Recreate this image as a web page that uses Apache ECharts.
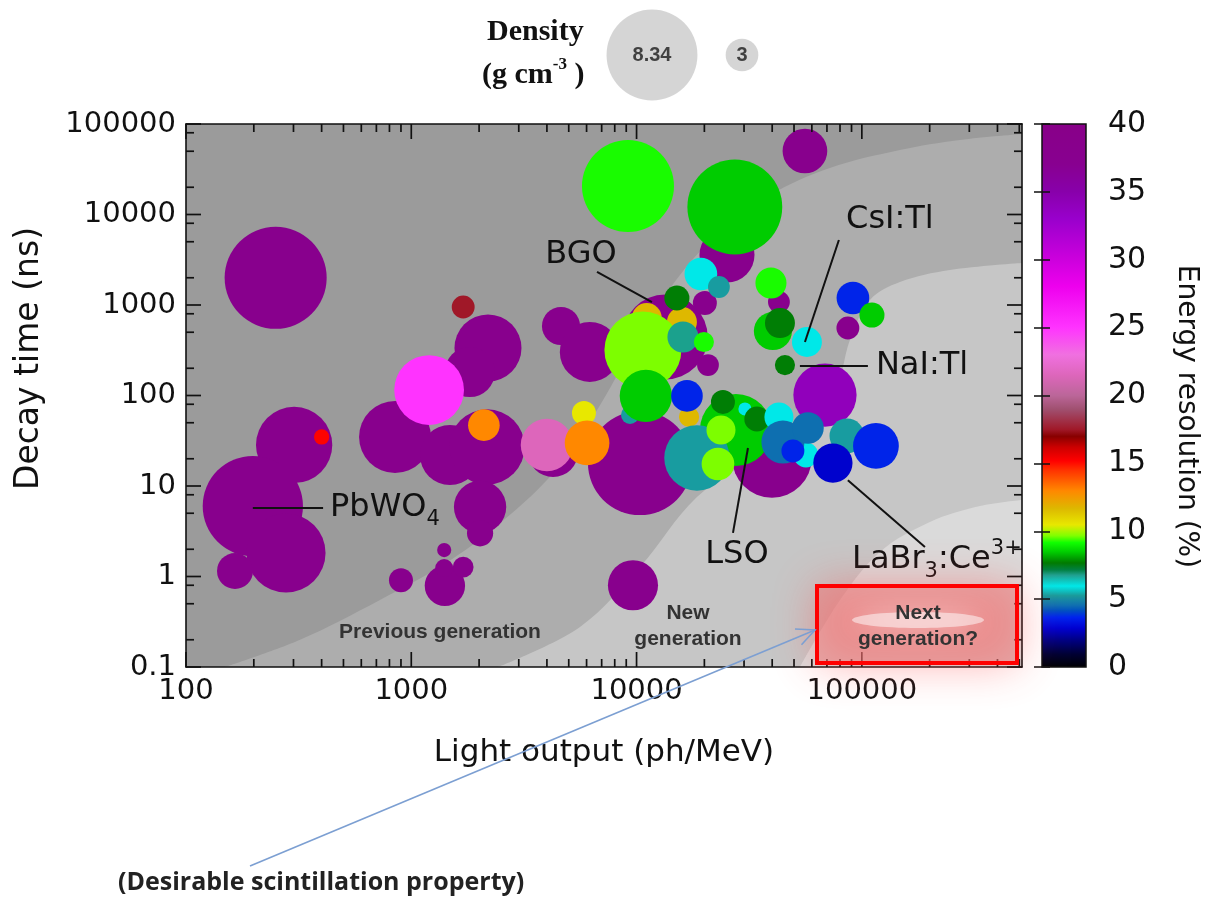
<!DOCTYPE html>
<html><head><meta charset="utf-8">
<script src="https://cdn.jsdelivr.net/npm/echarts@6/dist/echarts.min.js"></script>
<style>html,body{margin:0;padding:0;background:#fff}#chart{width:1215px;height:909px}</style>
</head><body><div id="chart"></div>
<script>
// ---------------- DATA ----------------
// light output (ph/MeV)
const LIGHT_OUTPUT = [
  250,1700,2190,1820,4620,6200,302,198,278,165,847,1485,2170,2020,2020,4260,10350,13400,25200,20100,
  20750,39900,55900,42850,86700,68600,9640,900,1410,1400,1700,1400,
  400,1200,2100,4000,5840,6030,9160,27300,19300,23200,11100,15900,10670,15100,16070,19900,9350,11000,
  17100,16740,27600,18540,23700,22980,24180,30270,34200,42850,56450,44650,57650,49430,85900,115500,74400,
  39500,40300,43300,57050,45570,91300,110900
];
// decay time (ns)
const DECAY_TIME = [
  2000,950,335,182,586,303,28.4,6.0,1.82,1.15,34.8,22,27,5.86,3.0,23.8,17.9,443,3570,1050,
  217,20.4,50300,1080,557,101,0.8,0.91,0.79,1.96,1.27,1.24,
  34.8,115,47,28.4,64,29.9,20650,12100,2200,1580,718,649,318,1195,443,390,61,99,
  58,99,41.6,20.4,41.6,17.5,85,71,55,58,22,30.6,43.7,24.4,35.7,27.7,17.9,
  1750,516,632,390,217,1195,775
];
// energy resolution (%)
const ENERGY_RESOLUTION = [
  38,17.5,38,38,38,38,38,38,38,38,38,38,38,38,38,38,38,38,38,38,
  38,38,38,38,38,34,38,38,38,38,38,38,
  15.2,25,13,21.5,10.5,13,9.2,8.5,6.0,5.3,11.7,11.7,9.7,7.7,6.8,9.2,5.3,8.5,
  11.7,3.7,8.5,5.3,9.7,9.7,7.7,6.0,7.7,6.0,6.0,4.6,4.6,3.7,5.3,3.7,2.9,
  9.2,8.5,7.7,6.0,7.7,3.7,8.5
];
// density (g cm^-3)
const DENSITY = [
  9.36,2.1,6.15,4.6,3.5,5.5,7.0,9.2,7.25,3.3,6.6,5.5,6.9,4.8,2.4,4.6,9.54,7.8,5.05,2.2,
  2.0,7.3,4.1,2.0,2.1,5.8,4.6,2.2,3.7,1.3,1.9,1.65,
  1.4,6.4,2.9,4.8,2.2,4.1,8.44,8.7,3.0,2.0,2.75,2.75,7.06,2.3,2.85,1.85,1.65,4.8,
  1.85,2.9,6.6,6.0,2.66,3.0,2.2,1.2,2.3,2.66,2.3,3.95,2.9,2.1,3.2,4.2,3.6,
  2.85,3.5,2.75,2.75,1.85,3.0,2.3
];
// density legend
const LEGEND_DENSITY = [8.34, 3];

// background generation boundaries [light output, decay time]
const BOUNDARY_PREVIOUS = [[149,0.1],[321,0.2],[726,0.55],[1486,1.5],[2742,4.8],[4571,17],[6880,78],[10350,470],[15590,2150],[23440,6400],[39080,16400],[72150,32700],[147600,51600],[272500,66600],[514000,77500]];
const BOUNDARY_NEW = [[2426,0.1],[5610,0.277],[10350,1.27],[18540,7.55],[35300,22],[58900,43.7],[76000,101],[88500,410],[108700,1135],[147600,1795],[246000,2436],[514000,2911]];
const BOUNDARY_NEXT = [[53100,0.1],[80000,0.55],[120300,1.87],[200500,4.0],[334400,6.0],[514000,7.0]];

// axis ticks
const X_MINOR_TICKS = [200,300,400,500,600,700,800,900,2000,3000,4000,5000,6000,7000,8000,9000,20000,30000,40000,50000,60000,70000,80000,90000,200000,300000,400000,500000];
const Y_MINOR_TICKS = [0.2,0.5,0.8,2,5,8,20,50,80,200,500,800,2000,5000,8000,20000,50000,80000];
const X_MAJOR_TICKS = [100,1000,10000,100000];
const Y_MAJOR_TICKS = [0.1,1,10,100,1000,10000,100000];

// annotations
const ANNOT_LABELS = ['PbWO{sub|4}','BGO','CsI:Tl','NaI:Tl','LSO','LaBr{sub|3}:Ce{sup|3+}'];
const ANNOT_FROM = [[198,5.71],[11700,1079],[55900,390],[53100,212],[31230,26.3],[86700,11.6]];
const ANNOT_TO = [[406,5.71],[6675,2317],[79100,5225],[106400,212],[26790,3.03],[190600,2.12]];
const ANNOT_TEXT = [[436,5.71],[5665,3568],[133200,8700],[115500,212],[27900,1.73],[90500,1.52]];
const ANNOT_ALIGN = ['left','center','center','left','center','left'];

// colour scale for energy resolution
const COLOR_STOPS = [
  [0,'#000000'],[1,'#000033'],[2,'#000080'],[2.9,'#0000d0'],[3.7,'#0022ee'],[4.2,'#0050c0'],[4.6,'#1070b0'],
  [5.3,'#1a9a9a'],[6.0,'#00e8e8'],[6.8,'#20a090'],[7.2,'#008040'],[7.7,'#007a00'],[8.5,'#00cc00'],
  [9.2,'#11ff00'],[9.7,'#80ff00'],[10.5,'#e8e800'],[11.7,'#ddb800'],[13,'#ff8800'],[14.5,'#ff3300'],
  [15.2,'#ff0000'],[16.2,'#cc0000'],[17,'#880000'],[17.5,'#a01828'],[19,'#a05070'],[20,'#bb6699'],
  [21.5,'#dd66bb'],[23,'#f070e0'],[25,'#ff33ff'],[28,'#ee00ee'],[30,'#cc00dd'],[33,'#9900cc'],
  [35,'#8800aa'],[37,'#880090'],[40,'#880088']
];

// ---------------- helpers ----------------
function hex2rgb(h){return [parseInt(h.slice(1,3),16),parseInt(h.slice(3,5),16),parseInt(h.slice(5,7),16)];}
function colorAt(v){
  for(let i=1;i<COLOR_STOPS.length;i++){
    const [v0,c0]=COLOR_STOPS[i-1],[v1,c1]=COLOR_STOPS[i];
    if(v<=v1){
      const t=(v-v0)/(v1-v0),a=hex2rgb(c0),b=hex2rgb(c1);
      return 'rgb('+a.map((x,k)=>Math.round(x+(b[k]-x)*t)).join(',')+')';
    }
  }
  return COLOR_STOPS[COLOR_STOPS.length-1][1];
}
const PALETTE=[];for(let i=0;i<=160;i++)PALETTE.push(colorAt(i*0.25));

const SIZE_PER_DENSITY = 10.9;
const FONT='DejaVu Sans';
function powLabel(v){
  const l=Math.log10(v);
  if(Math.abs(l-Math.round(l))>1e-6)return '';
  const r=Math.round(l);
  return r<0?(Math.pow(10,r)).toFixed(-r):String(Math.round(Math.pow(10,r)));
}
const bubbles = LIGHT_OUTPUT.map((x,i)=>[x,DECAY_TIME[i],ENERGY_RESOLUTION[i],DENSITY[i]]);

const chart = echarts.init(document.getElementById('chart'),null,{renderer:'canvas'});
const axisLineStyle={color:'#111',width:1.6};
function bgSeries(data,color){
  return {type:'line',xAxisIndex:0,yAxisIndex:0,data:data,smooth:0.35,showSymbol:false,symbol:'none',
    lineStyle:{width:0,opacity:0},areaStyle:{color:color,opacity:1,origin:'start'},silent:true,z:1,animation:false};
}
const GRAPHIC = [
  {type:'text',left:487,top:17,z:60,style:{text:'Density',font:'bold 30px "Liberation Serif"',fill:'#111'}},
  {type:'text',left:482,top:56,z:60,style:{text:'{a|(g cm}{s|-3}{a| )}',rich:{a:{font:'bold 30px "Liberation Serif"',fill:'#111',lineHeight:34,verticalAlign:'bottom'},s:{font:'bold 17px "Liberation Serif"',fill:'#111',lineHeight:34,verticalAlign:'top'}}}},
  {type:'rect',z:50,shape:{x:817,y:586,width:200,height:77},style:{fill:'rgba(236,120,120,0.5)',shadowBlur:45,shadowColor:'rgba(255,70,70,0.9)'}},
  {type:'ellipse',z:51,shape:{cx:918,cy:620,rx:66,ry:8},style:{fill:'rgba(255,255,255,0.5)',shadowBlur:28,shadowColor:'rgba(255,255,255,1)'}},
  {type:'rect',z:52,shape:{x:817,y:586,width:200,height:77},style:{fill:null,stroke:'#ff0000',lineWidth:4}},
  {type:'text',z:53,x:918,y:613,style:{text:'Next',font:'bold 21px "Liberation Sans"',fill:'#333',align:'center',verticalAlign:'middle'}},
  {type:'text',z:53,x:918,y:639,style:{text:'generation?',font:'bold 21px "Liberation Sans"',fill:'#333',align:'center',verticalAlign:'middle'}},
  {type:'text',z:53,x:688,y:613,style:{text:'New',font:'bold 21px "Liberation Sans"',fill:'#333',align:'center',verticalAlign:'middle'}},
  {type:'text',z:53,x:688,y:639,style:{text:'generation',font:'bold 21px "Liberation Sans"',fill:'#333',align:'center',verticalAlign:'middle'}},
  {type:'text',z:53,x:440,y:632,style:{text:'Previous generation',font:'bold 21px "Liberation Sans"',fill:'#333',align:'center',verticalAlign:'middle'}},
  {type:'line',z:54,shape:{x1:250,y1:866,x2:815,y2:630},style:{stroke:'#7c9fd2',lineWidth:1.6}},
  {type:'polyline',z:54,shape:{points:[[795,629],[815,630],[801.5,644.8]]},style:{stroke:'#7c9fd2',lineWidth:1.6,fill:null}},
  {type:'text',z:54,left:118,top:870,style:{text:'(Desirable scintillation property)',font:'bold 25px "Open Sans"',fill:'#222'}}
];
const option = {
  animation:false,
  backgroundColor:'#ffffff',
  grid:[
    {left:186,top:124,width:836,height:543,show:true,backgroundColor:'#9b9b9b',borderWidth:0,outerBoundsMode:'none'},
    {left:1042,top:124,width:44,height:543,show:false,outerBoundsMode:'none'},
    {left:607,top:10,width:180,height:90,show:false,outerBoundsMode:'none'}
  ],
  xAxis:[
    {gridIndex:0,type:'log',logBase:10,min:100,max:514000,position:'bottom',z:10,
     axisLine:{show:true,onZero:false,lineStyle:axisLineStyle},
     axisTick:{show:false},
     axisLabel:{show:true,margin:10,fontFamily:FONT,fontSize:29,color:'#111',formatter:powLabel,showMaxLabel:false},
     splitLine:{show:false},minorTick:{show:false},
     name:'Light output (ph/MeV)',nameLocation:'middle',nameGap:70,
     nameTextStyle:{fontFamily:FONT,fontSize:31,color:'#111'}},
    {gridIndex:0,type:'log',logBase:10,min:100,max:514000,position:'top',z:10,
     axisLine:{show:true,onZero:false,lineStyle:axisLineStyle},
     axisTick:{show:false},axisLabel:{show:false},splitLine:{show:false}},
    {gridIndex:1,type:'value',min:0,max:1,show:false},
    {gridIndex:2,type:'category',data:LEGEND_DENSITY.map(String),show:false,boundaryGap:true}
  ],
  yAxis:[
    {gridIndex:0,type:'log',logBase:10,min:0.1,max:100000,position:'left',z:10,
     axisLine:{show:true,onZero:false,lineStyle:axisLineStyle},
     axisTick:{show:false},
     axisLabel:{show:true,margin:10,fontFamily:FONT,fontSize:29,color:'#111',formatter:powLabel},
     splitLine:{show:false},
     name:'Decay time (ns)',nameLocation:'middle',nameGap:140,nameRotate:90,
     nameTextStyle:{fontFamily:FONT,fontSize:33,color:'#111',padding:[0,0,0,74]}},
    {gridIndex:0,type:'log',logBase:10,min:0.1,max:100000,position:'right',z:10,
     axisLine:{show:true,onZero:false,lineStyle:axisLineStyle},
     axisTick:{show:false},axisLabel:{show:false},splitLine:{show:false}},
    {gridIndex:1,type:'value',min:0,max:40,interval:5,position:'right',z:10,
     axisLine:{show:false},
     axisTick:{show:true,inside:true,length:8,lineStyle:{color:'#111',width:1.5}},
     axisLabel:{show:true,margin:22,fontFamily:FONT,fontSize:30,color:'#111'},
     splitLine:{show:false},
     name:'Energy resolution (%)',nameLocation:'middle',nameGap:86,nameRotate:-90,
     nameTextStyle:{fontFamily:FONT,fontSize:28,color:'#111',padding:[0,0,0,42]}},
    {gridIndex:1,type:'value',min:0,max:40,interval:5,position:'left',z:10,
     axisLine:{show:false},
     axisTick:{show:true,inside:true,length:8,lineStyle:{color:'#111',width:1.5}},
     axisLabel:{show:false},splitLine:{show:false}},
    {gridIndex:2,type:'value',min:0,max:1,show:false}
  ],
  visualMap:[{type:'continuous',show:false,min:0,max:40,dimension:2,seriesIndex:3,inRange:{color:PALETTE}}],
  series:[
    bgSeries(BOUNDARY_PREVIOUS,'#adadad'),
    bgSeries(BOUNDARY_NEW,'#c6c6c6'),
    bgSeries(BOUNDARY_NEXT,'#dadada'),
    {type:'scatter',xAxisIndex:0,yAxisIndex:0,data:bubbles,encode:{x:0,y:1},
     symbol:'circle',symbolSize:v=>v[3]*SIZE_PER_DENSITY,itemStyle:{opacity:1},silent:true,z:3,
     emphasis:{disabled:true}},
    {type:'custom',xAxisIndex:0,yAxisIndex:0,silent:true,z:15,clip:false,
     data:ANNOT_FROM.map((p,i)=>[p[0],p[1],ANNOT_TO[i][0],ANNOT_TO[i][1],ANNOT_TEXT[i][0],ANNOT_TEXT[i][1]]),
     renderItem:(params,api)=>{
       const i=params.dataIndex;
       const a=api.coord([api.value(0),api.value(1)]),b=api.coord([api.value(2),api.value(3)]),t=api.coord([api.value(4),api.value(5)]);
       return {type:'group',children:[
         {type:'line',shape:{x1:a[0],y1:a[1],x2:b[0],y2:b[1]},style:{stroke:'#111',lineWidth:2}},
         {type:'text',x:t[0],y:t[1],style:{text:ANNOT_LABELS[i],align:ANNOT_ALIGN[i],verticalAlign:'middle',
           rich:{
             sub:{fontFamily:FONT,fontSize:21,fill:'#111',lineHeight:22,verticalAlign:'bottom'},
             sup:{fontFamily:FONT,fontSize:21,fill:'#111',lineHeight:22,verticalAlign:'top'}
           },
           font:'32px "DejaVu Sans"',fill:'#111',lineHeight:44}}
       ]};
     }},
    {type:'custom',xAxisIndex:2,yAxisIndex:2,data:[[0,40]],silent:true,z:5,clip:false,
     renderItem:(params,api)=>{
       const p0=api.coord([0,0]),p1=api.coord([1,40]);
       return {type:'rect',shape:{x:p0[0],y:p1[1],width:p1[0]-p0[0],height:p0[1]-p1[1]},
         style:{fill:new echarts.graphic.LinearGradient(0,1,0,0,COLOR_STOPS.map(s=>({offset:s[0]/40,color:s[1]}))),
           stroke:'#111',lineWidth:1.5}};
     }},
    {type:'scatter',xAxisIndex:3,yAxisIndex:4,data:LEGEND_DENSITY.map((d,i)=>[i,0.5,d]),silent:true,z:5,
     symbolSize:v=>v[2]*SIZE_PER_DENSITY,itemStyle:{color:'#cbcbcb'},
     label:{show:true,position:'inside',formatter:p=>String(p.value[2]),fontFamily:'Liberation Sans',fontWeight:'bold',fontSize:20,color:'#1a1a1a'}},
    // axis ticks: major and minor, on all four sides, placed through the axis scales
    {type:'custom',xAxisIndex:0,yAxisIndex:0,silent:true,z:40,clip:false,
     data:X_MINOR_TICKS.map(v=>[v,8]).concat(X_MAJOR_TICKS.map(v=>[v,15])),
     encode:{x:0},
     renderItem:(params,api)=>{
       const cs=params.coordSys;
       const p=api.coord([api.value(0),10]);
       const x=p[0], len=api.value(1), yb=cs.y+cs.height, yt=cs.y;
       return {type:'group',children:[
         {type:'line',shape:{x1:x,y1:yb,x2:x,y2:yb-len},style:{stroke:'#111',lineWidth:1.7}},
         {type:'line',shape:{x1:x,y1:yt,x2:x,y2:yt+len},style:{stroke:'#111',lineWidth:1.7}}]};
     }},
    {type:'custom',xAxisIndex:0,yAxisIndex:0,silent:true,z:40,clip:false,
     data:Y_MINOR_TICKS.map(v=>[8,v]).concat(Y_MAJOR_TICKS.map(v=>[15,v])),
     encode:{y:1},
     renderItem:(params,api)=>{
       const cs=params.coordSys;
       const p=api.coord([1000,api.value(1)]);
       const y=p[1], len=api.value(0), xl=cs.x, xr=cs.x+cs.width;
       return {type:'group',children:[
         {type:'line',shape:{x1:xl,y1:y,x2:xl+len,y2:y},style:{stroke:'#111',lineWidth:1.7}},
         {type:'line',shape:{x1:xr,y1:y,x2:xr-len,y2:y},style:{stroke:'#111',lineWidth:1.7}}]};
     }}
  ],
  graphic:GRAPHIC
};
chart.setOption(option);
</script>
</body></html>
